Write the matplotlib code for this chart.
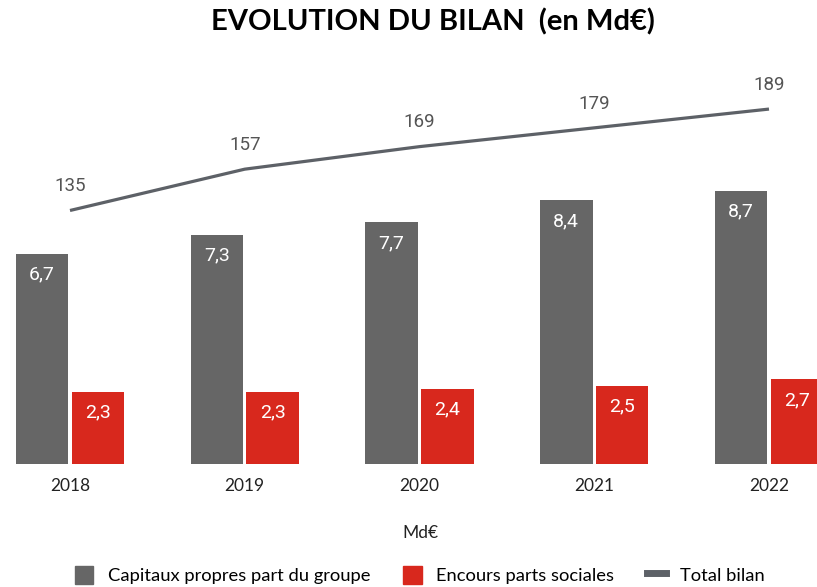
"""Evolution du bilan: capitaux propres / parts sociales (bars) and total bilan (line)."""
import matplotlib.pyplot as plt
from matplotlib.lines import Line2D
from matplotlib.patches import Patch

years = ["2018", "2019", "2020", "2021", "2022"]
capitaux = [6.7, 7.3, 7.7, 8.4, 8.7]
parts_sociales = [2.3, 2.3, 2.4, 2.5, 2.7]
total_bilan = [135, 157, 169, 179, 189]

GRAY = "#666666"
RED = "#d8281d"
LINE = "#5d6167"


def fmt(v):
    return f"{v:.1f}".replace(".", ",")


fig = plt.figure(figsize=(8.17, 5.87), dpi=100)
ax = fig.add_axes([0.0, 0.2095, 1.0, 0.6882])
ax2 = ax.twinx()

x = list(range(len(years)))
w = 0.30
off = 0.16
ax.bar([i - off for i in x], capitaux, width=w, color=GRAY, zorder=2)
ax.bar([i + off for i in x], parts_sociales, width=w, color=RED, zorder=2)

for i, (c, p) in enumerate(zip(capitaux, parts_sociales)):
    ax.annotate(fmt(c), (i - off, c), xytext=(0, -15), textcoords="offset points",
                ha="center", va="center", color="white", fontsize=14,
                family="Roboto")
    ax.annotate(fmt(p), (i + off, p), xytext=(0, -15), textcoords="offset points",
                ha="center", va="center", color="white", fontsize=14,
                family="Roboto")

ax2.plot(x, total_bilan, color=LINE, lw=2.3, solid_capstyle="butt")
for i, t in enumerate(total_bilan):
    ax2.annotate(str(t), (i, t), xytext=(0, 17.5), textcoords="offset points",
                 ha="center", va="center", color="#555555", fontsize=13.5,
                 family="Roboto")

ax.set_xlim(-0.4006, 4.2747)
ax.set_ylim(0, 12.87)
ax2.set_ylim(0, 215.1)

ax.set_xticks(x)
ax.set_xticklabels(years, family="Lato", fontsize=12.5, color="#222222")
ax.tick_params(axis="x", length=0, pad=10)
ax.set_yticks([])
ax2.set_yticks([])
for a in (ax, ax2):
    for s in a.spines.values():
        s.set_visible(False)
ax.patch.set_visible(False)

fig.text(433 / 817, 1 - 22 / 587, "EVOLUTION DU BILAN  (en Md€)", ha="center",
         va="center", fontsize=21, fontweight="bold", family="Lato")
fig.text(420 / 817, 1 - 533 / 587, "Md€", ha="center", va="center",
         fontsize=12.5, family="Lato", color="#222222")

handles = [
    Patch(color=GRAY, label="Capitaux propres part du groupe"),
    Patch(color=RED, label="Encours parts sociales"),
    Line2D([], [], color=LINE, lw=5, label="Total bilan"),
]
fig.legend(handles=handles, loc="center", bbox_to_anchor=(420 / 817, 1 - 575 / 587),
           ncol=3, frameon=False, prop={"family": "Lato", "size": 13.2},
           handlelength=1.0, handleheight=1.2, handletextpad=0.8, columnspacing=1.8)

fig.savefig("out.png", dpi=100)
